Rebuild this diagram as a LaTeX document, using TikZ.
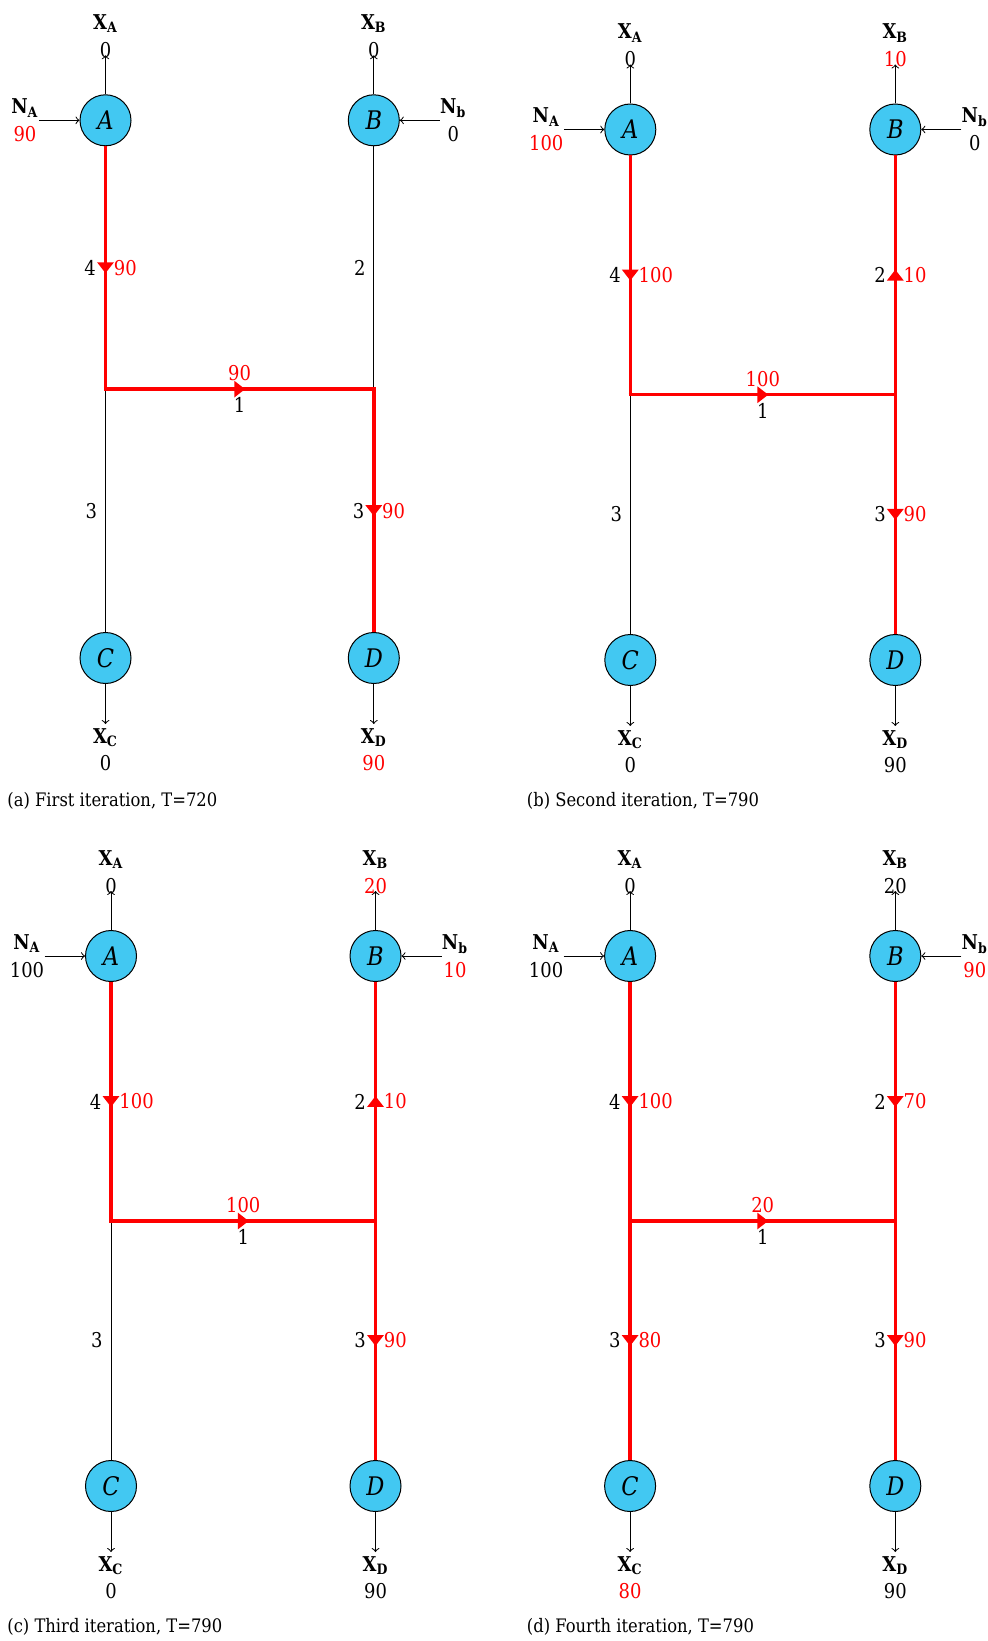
\documentclass[tikz,border=0pt]{standalone}
\usepackage{fontspec}
\setmainfont{DejaVu Serif}[FakeStretch=0.88]
\usetikzlibrary{decorations.markings}
\definecolor{nodeblue}{RGB}{66,200,242}
\newcommand{\lbl}[2]{\textbf{#1}\textsubscript{\textbf{#2}}}
\newcommand{\rv}[1]{\textcolor{red}{#1}}
\tikzset{
  station/.style={circle, draw=black, line width=0.5pt, fill=nodeblue, minimum size=25.5pt, inner sep=0pt, font=\fontsize{12.8}{14}\selectfont\itshape},
  ioarrow/.style={->, black, line width=0.5pt},
  idle/.style={black, line width=0.5pt},
  flow/.style={red, line width=1.75pt, postaction={decorate},
    decoration={markings, mark=at position 0.5 with {\fill[red] (2.7pt,0pt) -- (-2.7pt,4.2pt) -- (-2.7pt,-4.2pt) -- cycle;}}},
  numl/.style={left=0.6pt, black},
  flowr/.style={right=0pt, red},
  flowa/.style={above, red},
  numb/.style={below, black},
  ext>/.style={shorten >=-0.875pt},
  ext</.style={shorten <=-0.875pt},
  caption/.style={anchor=base west, inner sep=0pt, font=\fontsize{9.3}{10}\selectfont},
}
\newcommand{\Panel}[5]{%
\begin{scope}[shift={(#2,#3)}]
 \node[station] (#1A) at (0,0) {A};
 \node[station] (#1B) at (#4,0) {B};
 \node[station] (#1C) at (0,#5) {C};
 \node[station] (#1D) at (#4,#5) {D};
 \coordinate (#1J1) at (0,#5/2);
 \coordinate (#1J2) at (#4,#5/2);
 \coordinate (#1XAt) at (0,-65);
 \coordinate (#1XBt) at (#4,-65);
 \coordinate (#1XCt) at (0,#5+66);
 \coordinate (#1XDt) at (#4,#5+66);
 \coordinate (#1NAt) at (-66.5,0);
 \coordinate (#1NBt) at (#4+66,0);
\end{scope}
\draw[ioarrow] (#1A) -- (#1XAt);
\draw[ioarrow] (#1B) -- (#1XBt);
\draw[ioarrow] (#1C) -- (#1XCt);
\draw[ioarrow] (#1D) -- (#1XDt);
\draw[ioarrow] (#1NAt) -- (#1A);
\draw[ioarrow] (#1NBt) -- (#1B);
\node[anchor=base] (#1XAl) at ([yshift=13pt]#1XAt) {\lbl{X}{A}};
\node[anchor=base] (#1XBl) at ([yshift=13pt]#1XBt) {\lbl{X}{B}};
\node[anchor=base] (#1XCl) at ([yshift=-9.6pt]#1XCt) {\lbl{X}{C}};
\node[anchor=base] (#1XDl) at ([yshift=-9.6pt]#1XDt) {\lbl{X}{D}};
}
\newcommand{\Vals}[7]{%
\node[anchor=base] (#1XAv) at ([yshift=-1.2pt]#1XAt) {#2};
\node[anchor=base] (#1XBv) at ([yshift=-1.2pt]#1XBt) {#3};
\node[anchor=base] (#1XCv) at ([yshift=-23.3pt]#1XCt) {#4};
\node[anchor=base] (#1XDv) at ([yshift=-23.3pt]#1XDt) {#5};
\node[anchor=east, align=center, inner sep=0pt] (#1NAl) at (#1NAt) {\lbl{N}{A}\\#6};
\node[anchor=west, align=center, inner sep=0pt] (#1NBl) at (#1NBt) {\lbl{N}{b}\\#7};
}
\begin{document}
\begin{tikzpicture}[x=0.5pt, y=-0.5pt, font=\fontsize{10.2}{14}\selectfont]
\fill[white] (0,0) rectangle (987,1641);
\useasboundingbox (0,0) rectangle (987,1641);

% ---------- (a)
\Panel{a}{105.5}{120.3}{268.3}{537.7}
\Vals{a}{0}{0}{0}{\rv{90}}{\rv{90}}{0}
\draw[idle] (aB) -- node[numl]{2} (aJ2);
\draw[idle] (aC) -- node[numl]{3} (aJ1);
\draw[flow, ext>] (aA) -- node[numl]{4} node[flowr]{90} (aJ1);
\draw[flow, ext<, ext>] (aJ1) -- node[flowa]{90} node[numb]{1} (aJ2);
\draw[flow, ext<] (aJ2) -- node[numl]{3} node[flowr]{90} (aD);
\node[caption] (capa) at (7,806) {(a) First iteration, T=720};

% ---------- (b)
\Panel{b}{630.3}{129.5}{265}{530.5}
\Vals{b}{0}{\rv{10}}{0}{90}{\rv{100}}{0}
\draw[idle] (bC) -- node[numl]{3} (bJ1);
\draw[flow, ext>] (bA) -- node[numl]{4} node[flowr]{100} (bJ1);
\draw[flow, ext<, ext>] (bJ1) -- node[flowa]{100} node[numb]{1} (bJ2);
\draw[flow, ext<] (bJ2) -- node[numl]{2} node[flowr]{10} (bB);
\draw[flow, ext<] (bJ2) -- node[numl]{3} node[flowr]{90} (bD);
\node[caption] (capb) at (526.5,806) {(b) Second iteration, T=790};

% ---------- (c)
\Panel{c}{111}{956}{264.5}{530}
\Vals{c}{0}{\rv{20}}{0}{90}{100}{\rv{10}}
\draw[idle] (cC) -- node[numl]{3} (cJ1);
\draw[flow, ext>] (cA) -- node[numl]{4} node[flowr]{100} (cJ1);
\draw[flow, ext<, ext>] (cJ1) -- node[flowa]{100} node[numb]{1} (cJ2);
\draw[flow, ext<] (cJ2) -- node[numl]{2} node[flowr]{10} (cB);
\draw[flow, ext<] (cJ2) -- node[numl]{3} node[flowr]{90} (cD);
\node[caption] (capc) at (7,1632.7) {(c) Third iteration, T=790};

% ---------- (d)
\Panel{d}{630.1}{956}{265.2}{530}
\Vals{d}{0}{20}{\rv{80}}{90}{100}{\rv{90}}
\draw[flow, ext>] (dA) -- node[numl]{4} node[flowr]{100} (dJ1);
\draw[flow, ext<, ext>] (dJ1) -- node[flowa]{20} node[numb]{1} (dJ2);
\draw[flow, ext>] (dB) -- node[numl]{2} node[flowr]{70} (dJ2);
\draw[flow, ext<] (dJ1) -- node[numl]{3} node[flowr]{80} (dC);
\draw[flow, ext<] (dJ2) -- node[numl]{3} node[flowr]{90} (dD);
\node[caption] (capd) at (526.5,1632.7) {(d) Fourth iteration, T=790};
\end{tikzpicture}
\end{document}
